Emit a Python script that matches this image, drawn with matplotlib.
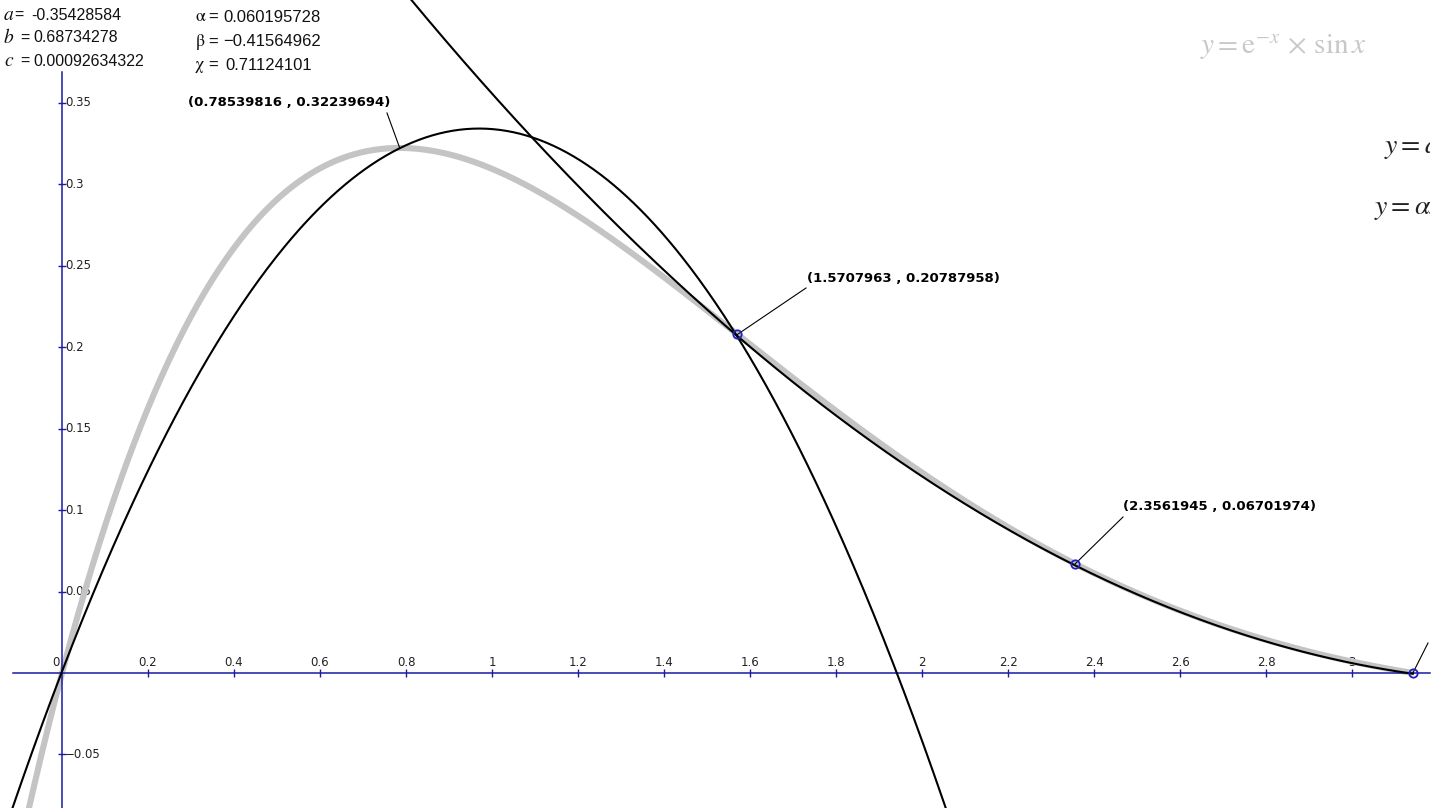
import numpy as np
import matplotlib
matplotlib.use('Agg')
import matplotlib.pyplot as plt

plt.rcParams['mathtext.fontset'] = 'stix'

# ---------------- data ----------------
coef_latin = [-0.35428584, 0.68734278, 0.00092634322]      # y = a x^2 + b x + c
coef_greek = [0.060195728, -0.41564962, 0.71124101]        # y = alpha x^2 + beta x + chi
coef_latin_names = ['a', 'b', 'c']
coef_latin_text = ['-0.35428584', '0.68734278', '0.00092634322']
coef_greek_names = ['\u03b1', '\u03b2', '\u03c7']
coef_greek_text = ['0.060195728', '\u22120.41564962', '0.71124101']

marked_x = [0.78539816, 1.5707963, 2.3561945, 3.1415927]
marked_y = [0.32239694, 0.20787958, 0.06701974, 0.0]
marked_labels = ['(0.78539816 , 0.32239694)', '(1.5707963 , 0.20787958)',
                 '(2.3561945 , 0.06701974)', '']
marked_circle = [False, True, True, True]

xtick_vals = [0.2, 0.4, 0.6, 0.8, 1.0, 1.2, 1.4, 1.6, 1.8, 2.0, 2.2, 2.4, 2.6, 2.8, 3.0]
xtick_labels = ['0.2', '0.4', '0.6', '0.8', '1', '1.2', '1.4', '1.6', '1.8', '2',
                '2.2', '2.4', '2.6', '2.8', '3']
ytick_vals = [-0.05, 0.05, 0.1, 0.15, 0.2, 0.25, 0.3, 0.35]
ytick_labels = ['\u22120.05', '0.05', '0.1', '0.15', '0.2', '0.25', '0.3', '0.35']

# ---------------- layout helpers ----------------
W, H = 1442, 808
X0PX, Y0PX = 62, 673          # pixel position of origin
SX, SY = 430.0, 1628.6        # pixels per unit
PLOT_RIGHT = 1430

fig = plt.figure(figsize=(W / 100, H / 100), dpi=100)
ax = fig.add_axes([0, 0, PLOT_RIGHT / W, 1])
ax.set_xlim(-X0PX / SX, (PLOT_RIGHT - X0PX) / SX)
ax.set_ylim(-(H - Y0PX) / SY, Y0PX / SY)
ax.set_facecolor('white')


def px(xp, yp):
    """image pixel -> data coordinates"""
    return (xp - X0PX) / SX, (Y0PX - yp) / SY


def fxy(xp, yp):
    """image pixel -> figure fraction"""
    return xp / W, 1 - yp / H


axis_col = '#1a1aa6'

# spines through origin
for s in ['top', 'right']:
    ax.spines[s].set_visible(False)
ax.spines['left'].set_position(('data', 0))
ax.spines['bottom'].set_position(('data', 0))
ax.spines['left'].set_color(axis_col)
ax.spines['bottom'].set_color(axis_col)
ax.spines['left'].set_linewidth(1.1)
ax.spines['bottom'].set_linewidth(1.1)
ax.spines['left'].set_bounds(px(0, H)[1], px(0, 72)[1])
ax.spines['bottom'].set_bounds(px(13, 0)[0], px(PLOT_RIGHT, 0)[0])

ax.set_xticks(xtick_vals)
ax.set_yticks(ytick_vals)
ax.tick_params(axis='both', direction='inout', length=6, width=1.0, color=axis_col,
               labelbottom=False, labelleft=False)

tick_font = dict(family='DejaVu Sans', fontsize=8.5, color='#222222')
for v, lab in zip(xtick_vals, xtick_labels):
    ax.text(v, px(0, 662)[1], lab, ha='center', va='center', zorder=1, **tick_font)
for v, lab in zip(ytick_vals, ytick_labels):
    ax.text(px(65, 0)[0], v, lab, ha='left', va='center', zorder=1, **tick_font)
ax.text(px(60, 0)[0], px(0, 662)[1], '0', ha='right', va='center', zorder=1, **tick_font)

# ---------------- curves ----------------
xg = np.linspace(ax.get_xlim()[0], np.pi, 600)
ax.plot(xg, np.exp(-xg) * np.sin(xg), color='#c4c4c4', lw=4.4, zorder=2,
        solid_capstyle='butt')

xl = np.linspace(ax.get_xlim()[0], 2.2, 600)
ax.plot(xl, np.polyval(coef_latin, xl), color='black', lw=1.5, zorder=3)

xq = np.linspace(0.7, np.pi, 600)
ax.plot(xq, np.polyval(coef_greek, xq), color='black', lw=1.5, zorder=3)

# ---------------- marked points ----------------
label_pos_px = [(188, 103), (807, 279), (1123, 507), (1440, 628)]
pointer_px = [(387, 113), (806, 288), (1123, 517), (1428, 643)]
for xv, yv, lab, circ, (lx, ly), (qx, qy) in zip(marked_x, marked_y, marked_labels,
                                                   marked_circle, label_pos_px, pointer_px):
    ax.plot([xv, px(qx, qy)[0]], [yv, px(qx, qy)[1]], color='black', lw=0.8, zorder=4)
    if circ:
        ax.plot([xv], [yv], marker='o', ms=6, mfc='none', mec='#2020c0', mew=1.3, zorder=5)
    if lab:
        ax.text(*px(lx, ly), lab, ha='left', va='center', family='DejaVu Sans',
                fontweight='bold', fontsize=9.5, color='black', zorder=6)

# ---------------- coefficient texts ----------------
lat_rows = [15, 38, 61]
lat_eq_x = [14, 20, 20]
for n, t, yr, ex in zip(coef_latin_names, coef_latin_text, lat_rows, lat_eq_x):
    fig.text(*fxy(4, yr), n, ha='left', va='center', family='STIXGeneral', style='italic',
             fontsize=14, color='#111111')
    fig.text(*fxy(ex, yr), '=', ha='left', va='center', family='Liberation Sans',
             fontsize=11.5, color='#111111')
    fig.text(*fxy(31 if t.startswith('-') else 33, yr), t, ha='left', va='center',
             family='Liberation Sans', fontsize=11.5, color='#111111')

gr_rows = [17, 42, 65]
for n, t, yr in zip(coef_greek_names, coef_greek_text, gr_rows):
    fig.text(*fxy(195, yr), n, ha='left', va='center', family='STIXGeneral',
             fontsize=13, color='#111111')
    fig.text(*fxy(208, yr), '=', ha='left', va='center', family='Liberation Sans',
             fontsize=12, color='#111111')
    fig.text(*fxy(223 if not t.startswith('0.7') else 225, yr), t, ha='left', va='center',
             family='Liberation Sans', fontsize=12, color='#111111')

# ---------------- formula labels ----------------
ax.text(*px(1200, 47), r'$y = \mathrm{e}^{-x}\,\times\,\mathrm{sin}\,x$', ha='left', va='center',
        fontsize=21, color='#c8c8c8', zorder=6)
ax.text(*px(1384, 146), r'$y = ax^{2}+bx+c$', ha='left', va='center',
        fontsize=20, color='#222222', zorder=6, clip_on=True)
ax.text(*px(1374, 207), r'$y = \alpha x^{2}+\beta x+\chi$', ha='left', va='center',
        fontsize=20, color='#222222', zorder=6, clip_on=True)

fig.savefig('out.png', dpi=100, facecolor='white')
